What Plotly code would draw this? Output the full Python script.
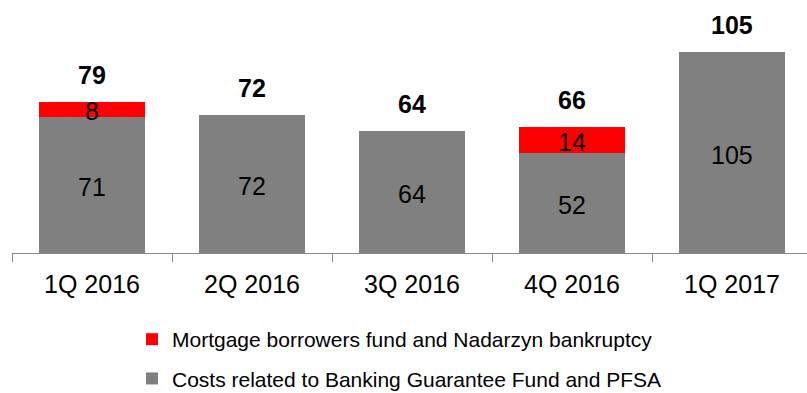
import plotly.graph_objects as go

categories = ["1Q 2016", "2Q 2016", "3Q 2016", "4Q 2016", "1Q 2017"]
costs_bgf = [71, 72, 64, 52, 105]
mortgage_fund = [8, None, None, 14, None]
totals = [79, 72, 64, 66, 105]

GRAY = "#808080"
RED = "#FF0000"
FONT = "Liberation Sans, Arial, sans-serif"

fig = go.Figure()
fig.add_trace(go.Bar(
    x=categories, y=costs_bgf, name="Costs related to Banking Guarantee Fund and PFSA",
    marker=dict(color=GRAY, line=dict(width=0)), width=0.66,
    legendgroup="b", legendrank=2,
))
fig.add_trace(go.Bar(
    x=categories, y=mortgage_fund, name="Mortgage borrowers fund and Nadarzyn bankruptcy",
    marker=dict(color=RED, line=dict(width=0)), width=0.66,
    legendgroup="a", legendrank=1,
))

annotations = []
for c, g, r, t in zip(categories, costs_bgf, mortgage_fund, totals):
    annotations.append(dict(x=c, y=g / 2, text=str(g), showarrow=False,
                            font=dict(size=25, color="black", family=FONT), yshift=-2))
    if r:
        annotations.append(dict(x=c, y=g + r / 2, text=str(r), showarrow=False,
                                font=dict(size=25, color="black", family=FONT), yshift=-2))
    annotations.append(dict(x=c, y=t, text="<b>%d</b>" % t, showarrow=False,
                            yanchor="bottom", yshift=11,
                            font=dict(size=25, color="black", family=FONT)))

fig.update_layout(
    width=807, height=393,
    margin=dict(l=12, r=0, t=0, b=140, autoexpand=False),
    barmode="stack",
    plot_bgcolor="white", paper_bgcolor="white",
    font=dict(family=FONT, size=25, color="black"),
    annotations=annotations,
    showlegend=True,
    legend=dict(
        orientation="v", x=(132 - 12) / 795, xanchor="left",
        y=(253 - 319) / 253, yanchor="top",
        font=dict(size=21, family=FONT, color="black"),
        traceorder="grouped", tracegroupgap=9,
        bgcolor="rgba(0,0,0,0)",
    ),
    xaxis=dict(
        range=[-0.5, 4.46875], showline=True, linecolor="#888888", linewidth=1,
        ticks="outside", tickson="boundaries", ticklen=8, tickcolor="#888888",
        tickfont=dict(size=25, family=FONT, color="black"),
        ticklabelstandoff=9, showgrid=False, zeroline=False,
    ),
    yaxis=dict(range=[0, 132.2], visible=False, showgrid=False, zeroline=False),
)

fig.write_html("out.html")
